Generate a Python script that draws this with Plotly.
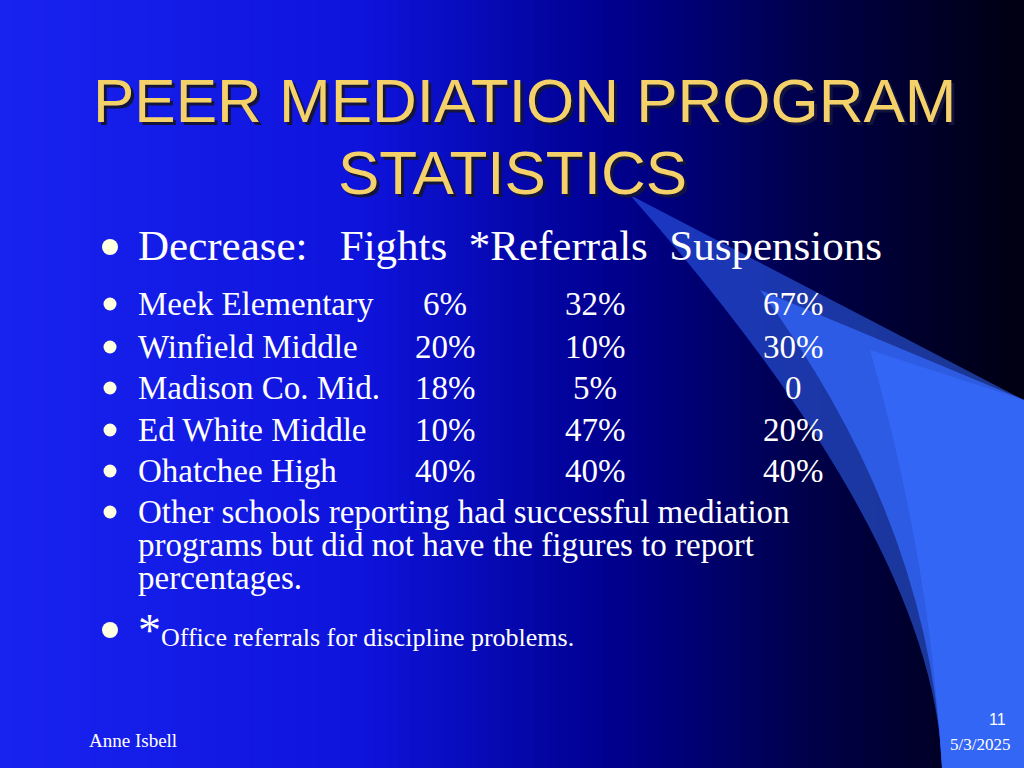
import plotly.graph_objects as go

schools = ["Meek Elementary", "Winfield Middle", "Madison Co. Mid.", "Ed White Middle", "Ohatchee High"]
fights = ["6%", "20%", "18%", "10%", "40%"]
referrals = ["32%", "10%", "5%", "47%", "40%"]
suspensions = ["67%", "30%", "0", "20%", "40%"]
header_line = "Decrease:&nbsp;&nbsp; Fights&nbsp; *Referrals&nbsp; Suspensions"

W, H = 1024, 768
fig = go.Figure()
shapes = []
N = 90
def lerp(a, b, t): return int(a + (b - a) * t)
stops = [(0.0, (25, 35, 240)), (0.35, (15, 20, 220)), (0.6, (0, 0, 140)), (0.8, (0, 0, 70)), (1.0, (0, 0, 15))]
def col(t):
    for i in range(len(stops) - 1):
        t0, c0 = stops[i]; t1, c1 = stops[i + 1]
        if t <= t1:
            u = (t - t0) / (t1 - t0)
            return "rgb(%d,%d,%d)" % tuple(lerp(c0[k], c1[k], u) for k in range(3))
    return "rgb(0,0,15)"
for i in range(N):
    x0 = W * i / N; x1 = W * (i + 1) / N + 1
    shapes.append(dict(type="rect", x0=x0, x1=x1, y0=0, y1=H, line_width=0, fillcolor=col(i / N), layer="below"))
# swoosh
shapes.append(dict(type="path", path="M630,195 L1024,400 L1024,768 L942,768 Q 935,540 630,195 Z",
                   fillcolor="rgb(50,100,245)", line_width=0, layer="below", opacity=0.55))
shapes.append(dict(type="path", path="M760,290 L1024,400 L1024,768 L942,768 Q 930,520 760,290 Z",
                   fillcolor="rgb(50,100,245)", line_width=0, layer="below", opacity=0.8))
shapes.append(dict(type="path", path="M870,350 L1024,400 L1024,768 L942,768 Q 930,560 870,350 Z",
                   fillcolor="rgb(52,102,245)", line_width=0, layer="below"))
fig.update_layout(shapes=shapes)

ann = []
def txt(x, y, s, size, color="white", family="Liberation Serif", anchor="left"):
    ann.append(dict(x=x, y=y, text=s, showarrow=False, xanchor=anchor, yanchor="middle",
                    font=dict(size=size, color=color, family=family)))
for (s, x, y) in [("PEER MEDIATION PROGRAM", 525, 100), ("STATISTICS", 512, 172)]:
    txt(x + 3, y + 3, s, 62, "rgb(20,20,60)", "Liberation Sans", "center")
    txt(x, y, s, 62, "rgb(245,210,105)", "Liberation Sans", "center")

bullet_x = 110
shapes_b = []
def bullet(y, r):
    shapes_b.append(dict(type="circle", x0=bullet_x - r, x1=bullet_x + r, y0=y - r, y1=y + r,
                         fillcolor="rgb(255,255,225)", line_width=0))
bullet(247, 8)
txt(136, 245, header_line, 43)

ys = [304, 347, 388, 430, 471]
for i, s in enumerate(schools):
    bullet(ys[i], 6.5)
    txt(136, ys[i], s, 33)
    txt(445, ys[i], fights[i], 33, anchor="center")
    txt(595, ys[i], referrals[i], 33, anchor="center")
    txt(793, ys[i], suspensions[i], 33, anchor="center")
bullet(512, 6.5)
for j, line in enumerate(["Other schools reporting had successful mediation",
                          "programs but did not have the figures to report",
                          "percentages."]):
    txt(136, 512 + j * 33, line, 33)
bullet(630, 8)
ann.append(dict(x=136, y=630, xanchor="left", yanchor="middle", showarrow=False,
                text="<span style='font-size:46px'>*</span>Office referrals for discipline problems.",
                font=dict(size=26, color="white", family="Liberation Serif")))
txt(87, 740, "Anne Isbell", 19)
txt(1008, 719, "11", 16, family="Liberation Sans", anchor="right")
txt(1012, 744, "5/3/2025", 17, anchor="right")

fig.update_layout(shapes=list(fig.layout.shapes) + shapes_b, annotations=ann,
                  width=W, height=H, margin=dict(l=0, r=0, t=0, b=0),
                  paper_bgcolor="rgb(10,20,220)", plot_bgcolor="rgba(0,0,0,0)",
                  xaxis=dict(range=[0, W], visible=False, fixedrange=True),
                  yaxis=dict(range=[H, 0], visible=False, fixedrange=True),
                  showlegend=False)
fig.write_html("out.html", config={"displayModeBar": False},
               post_script="document.body.style.margin='0';document.body.style.overflow='hidden';")
